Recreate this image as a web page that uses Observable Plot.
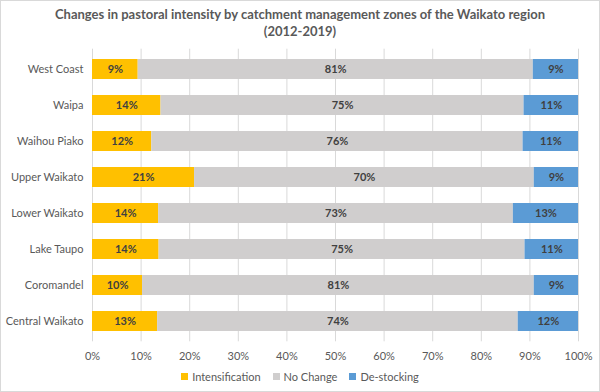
<!DOCTYPE html>
<html>
<head>
<meta charset="utf-8">
<script src="https://cdn.jsdelivr.net/npm/d3@7"></script>
<script src="https://cdn.jsdelivr.net/npm/@observablehq/plot@0.6"></script>
<style>
  html, body { margin: 0; padding: 0; background: #fff; }
  #wrap { position: relative; width: 600px; height: 392px; font-family: Lato, "Open Sans", sans-serif; overflow: hidden; }
  #frame { position: absolute; left: 0; top: 0; width: 598px; height: 390px; border: 1px solid #d9d9d9; pointer-events: none; }
  #title { position: absolute; left: 0; width: 600px; top: 6px; text-align: center; font-weight: bold; font-size: 13px; line-height: 17px; color: #595959; }
  #legend { position: absolute; left: 0; width: 600px; top: 370px; display: flex; justify-content: center; gap: 12px; font-size: 11px; color: #595959; }
  #legend span.item { display: flex; align-items: center; }
  #legend span.sw { display: inline-block; width: 7px; height: 7px; margin-right: 4px; }
  #chart { position: absolute; left: 0; top: 0; }
</style>
</head>
<body>
<div id="wrap">
  <div id="chart"></div>
  <div id="title">Changes in pastoral intensity by catchment management zones of the Waikato region<br>(2012-2019)</div>
  <div id="legend"></div>
  <div id="frame"></div>
</div>
<script>
const zones = ["West Coast", "Waipa", "Waihou Piako", "Upper Waikato", "Lower Waikato", "Lake Taupo", "Coromandel", "Central Waikato"];
const seriesNames = ["Intensification", "No Change", "De-stocking"];
const seriesColors = ["#FFC000", "#D0CECE", "#5B9BD5"];
const intensification = [9.4, 14.1, 12.2, 21.0, 13.6, 13.7, 10.3, 13.4];
const noChange = [81.3, 74.7, 76.4, 69.9, 73.0, 75.3, 80.6, 74.2];
const destocking = [9.3, 11.2, 11.4, 9.1, 13.4, 11.0, 9.1, 12.4];
const xTicks = [0, 10, 20, 30, 40, 50, 60, 70, 80, 90, 100];

const seriesValues = [intensification, noChange, destocking];
const data = [];
seriesNames.forEach((s, si) => {
  zones.forEach((z, zi) => {
    data.push({zone: z, series: s, value: seriesValues[si][zi]});
  });
});

const plot = Plot.plot({
  width: 600,
  height: 392,
  marginLeft: 92,
  marginRight: 22,
  marginTop: 48.7,
  marginBottom: 50.7,
  style: {fontFamily: "Lato, 'Open Sans', sans-serif", background: "transparent"},
  x: {domain: [0, 100], axis: null},
  y: {domain: zones, paddingInner: 0.44, paddingOuter: 0.22, axis: null},
  color: {domain: seriesNames, range: seriesColors},
  marks: [
    Plot.gridX(xTicks, {stroke: "#d9d9d9", strokeOpacity: 1}),
    Plot.barX(data, Plot.stackX({x: "value", y: "zone", fill: "series", z: "series", order: seriesNames})),
    Plot.text(data, Plot.stackX({x: "value", y: "zone", z: "series", order: seriesNames,
      text: d => Math.round(d.value) + "%", fill: "#404040", fontWeight: "bold", fontSize: 11})),
    Plot.axisX({ticks: xTicks, tickSize: 0, tickPadding: 10, tickFormat: d => d + "%", fontSize: 11, fill: "#595959", label: null}),
    Plot.axisY({tickSize: 0, tickPadding: 9, fontSize: 11, fill: "#595959", label: null})
  ]
});
document.getElementById("chart").appendChild(plot);

const legend = document.getElementById("legend");
seriesNames.forEach((s, i) => {
  const item = document.createElement("span");
  item.className = "item";
  const sw = document.createElement("span");
  sw.className = "sw";
  sw.style.background = seriesColors[i];
  item.appendChild(sw);
  item.appendChild(document.createTextNode(s));
  legend.appendChild(item);
});
</script>
</body>
</html>
